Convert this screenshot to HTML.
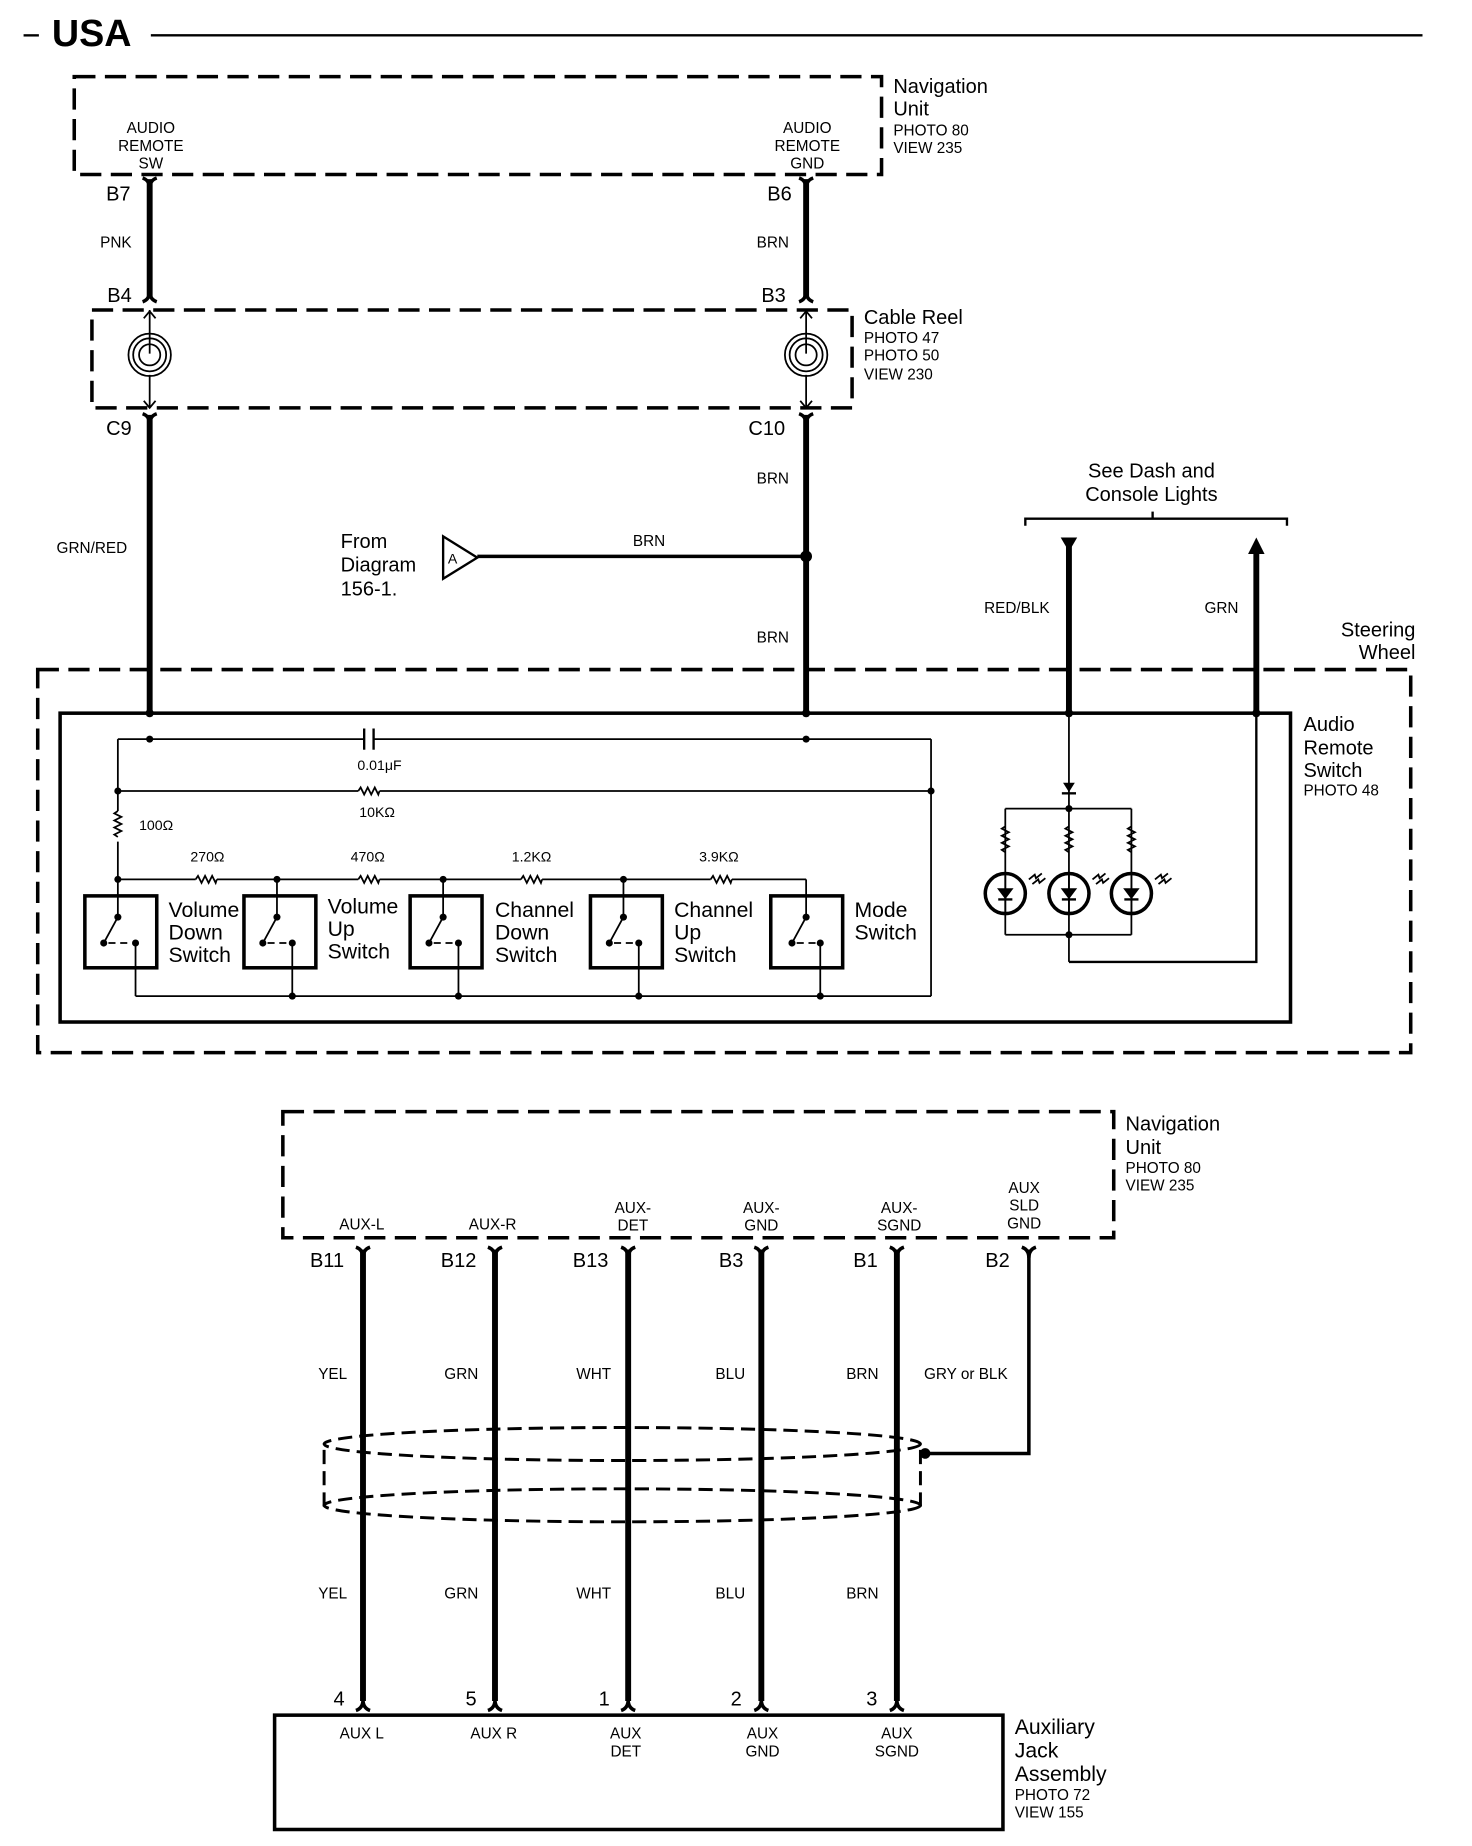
<!DOCTYPE html>
<html><head><meta charset="utf-8"><style>
html,body{margin:0;padding:0;background:#fff;}
svg{display:block;}
text{font-family:"Liberation Sans",Arial,sans-serif;fill:#000;}
.s{font-size:13px}.m{font-size:17px}.l{font-size:18px}
</style></head><body>
<svg width="1472" height="1846" viewBox="0 0 1249 1566" preserveAspectRatio="none" xmlns="http://www.w3.org/2000/svg">
<defs>
<g id="top"><path d="M-6,-4 Q0,-2 0,5 Q0,-2 6,-4" fill="none" stroke="#000" stroke-width="3"/></g>
<g id="bot"><path d="M-6,4 Q0,2 0,-5 Q0,2 6,4" fill="none" stroke="#000" stroke-width="3"/></g>
<g id="res"><path d="M-9,0 l2,-3 l3,6 l3,-6 l3,6 l3,-6 l3,6 l1,-3" fill="none" stroke="#000" stroke-width="1.5"/></g>
<g id="vres"><path d="M0,-13 l-3,2 l6,3 l-6,3 l6,3 l-6,3 l6,3 l-6,3 l3,2" fill="none" stroke="#000" stroke-width="1.5"/></g>
<g id="led"><circle r="17" fill="none" stroke="#000" stroke-width="3"/><path d="M-6,-4 L6,-4 L0,4 Z" fill="#000"/><line x1="-6" y1="5" x2="6" y2="5" stroke="#000" stroke-width="2"/><line x1="0" y1="-17" x2="0" y2="17" stroke="#000" stroke-width="1.5"/><path d="M20,-12 l5,-4 l1,3 l5,-4 M23,-8 l5,-4 l1,3 l5,-4" fill="none" stroke="#000" stroke-width="1.5"/></g>
</defs>
<g stroke="#000" fill="none">
<line x1="20" y1="30" x2="33" y2="30" stroke-width="2"/>
<line x1="128" y1="30" x2="1207" y2="30" stroke-width="2"/>
<rect x="63" y="65" width="685" height="83" stroke-width="3" stroke-dasharray="18,8"/>
<rect x="78" y="263" width="645" height="83" stroke-width="3" stroke-dasharray="18,8"/>
<line x1="127" y1="152" x2="127" y2="253" stroke-width="5"/>
<line x1="684" y1="152" x2="684" y2="253" stroke-width="5"/>
<line x1="127" y1="352" x2="127" y2="605" stroke-width="5"/>
<line x1="684" y1="352" x2="684" y2="605" stroke-width="5"/>
<line x1="405" y1="472" x2="684" y2="472" stroke-width="3"/>
<polygon points="376,455 376,491 405,473" stroke-width="2"/>
<g stroke-width="1.5">
<line x1="127" y1="263" x2="127" y2="300"/><path d="M122,270 L127,264 L132,270"/>
<circle cx="127" cy="301" r="18"/><circle cx="127" cy="301" r="14"/><circle cx="127" cy="301" r="9"/>
<line x1="127" y1="318" x2="127" y2="346"/><path d="M122,340 L127,346 L132,340"/>
<line x1="684" y1="263" x2="684" y2="300"/><path d="M679,270 L684,264 L689,270"/>
<circle cx="684" cy="301" r="18"/><circle cx="684" cy="301" r="14"/><circle cx="684" cy="301" r="9"/>
<line x1="684" y1="318" x2="684" y2="346"/><path d="M679,340 L684,346 L689,340"/>
</g>
<path d="M870,446 L870,440 L1092,440 L1092,446" stroke-width="2"/>
<line x1="978" y1="440" x2="978" y2="434" stroke-width="2"/>
<line x1="907" y1="462" x2="907" y2="605" stroke-width="5"/>
<line x1="1066" y1="468" x2="1066" y2="605" stroke-width="5"/>
<rect x="32" y="568" width="1165" height="325" stroke-width="3" stroke-dasharray="18,8"/>
<rect x="51" y="605" width="1044" height="262" stroke-width="3"/>
<g stroke-width="1.5">
<line x1="100" y1="627" x2="309" y2="627"/><line x1="317" y1="627" x2="790" y2="627"/>
<line x1="309" y1="618" x2="309" y2="636" stroke-width="2"/><line x1="317" y1="618" x2="317" y2="636" stroke-width="2"/>
<line x1="790" y1="627" x2="790" y2="845"/>
<line x1="100" y1="671" x2="304" y2="671"/><line x1="322" y1="671" x2="790" y2="671"/>
<line x1="100" y1="627" x2="100" y2="688"/><line x1="100" y1="714" x2="100" y2="778"/>
<line x1="100" y1="746" x2="166" y2="746"/><line x1="184" y1="746" x2="304" y2="746"/>
<line x1="322" y1="746" x2="442" y2="746"/><line x1="460" y1="746" x2="603" y2="746"/>
<line x1="621" y1="746" x2="684" y2="746"/>
<line x1="235" y1="746" x2="235" y2="778"/><line x1="376" y1="746" x2="376" y2="778"/>
<line x1="529" y1="746" x2="529" y2="778"/><line x1="684" y1="746" x2="684" y2="778"/>
<line x1="115" y1="845" x2="790" y2="845"/>
<line x1="115" y1="800" x2="115" y2="845"/><line x1="248" y1="800" x2="248" y2="845"/>
<line x1="389" y1="800" x2="389" y2="845"/><line x1="542" y1="800" x2="542" y2="845"/>
<line x1="696" y1="800" x2="696" y2="845"/>
</g>
<use href="#res" x="313" y="671"/><use href="#vres" x="100" y="701"/>
<use href="#res" x="175" y="746"/><use href="#res" x="313" y="746"/><use href="#res" x="451" y="746"/><use href="#res" x="612" y="746"/>
<g stroke-width="3">
<rect x="72" y="760" width="61" height="61"/><rect x="207" y="760" width="61" height="61"/>
<rect x="348" y="760" width="61" height="61"/><rect x="501" y="760" width="61" height="61"/>
<rect x="654" y="760" width="61" height="61"/>
</g>
<g stroke-width="1.5">
<path d="M100,778 L88,800 M92,800 h6 M102,800 h6"/>
<path d="M235,778 L223,800 M227,800 h6 M237,800 h6"/>
<path d="M376,778 L364,800 M368,800 h6 M378,800 h6"/>
<path d="M529,778 L517,800 M521,800 h6 M531,800 h6"/>
<path d="M684,778 L672,800 M676,800 h6 M686,800 h6"/>
</g>
<g stroke-width="1.5">
<line x1="907" y1="605" x2="907" y2="816"/>
<line x1="853" y1="686" x2="960" y2="686"/>
<line x1="853" y1="686" x2="853" y2="793"/><line x1="960" y1="686" x2="960" y2="793"/>
<line x1="853" y1="793" x2="960" y2="793"/>
<polyline points="907,816 1066,816 1066,605" stroke-width="2"/>
</g>
<use href="#vres" x="853" y="714"/><use href="#vres" x="907" y="714"/><use href="#vres" x="960" y="714"/>
<use href="#led" x="853" y="758"/><use href="#led" x="907" y="758"/><use href="#led" x="960" y="758"/>
<rect x="240" y="943" width="705" height="107" stroke-width="3" stroke-dasharray="18,8"/>
<g stroke-width="5">
<line x1="308" y1="1060" x2="308" y2="1443"/><line x1="420" y1="1060" x2="420" y2="1443"/>
<line x1="533" y1="1060" x2="533" y2="1443"/><line x1="646" y1="1060" x2="646" y2="1443"/>
<line x1="761" y1="1060" x2="761" y2="1443"/>
</g>
<polyline points="873,1060 873,1233 787,1233" stroke-width="3"/>
<g stroke-width="2.5" stroke-dasharray="12,6">
<ellipse cx="528" cy="1225" rx="253" ry="14"/>
<ellipse cx="528" cy="1277" rx="253" ry="14"/>
<line x1="275" y1="1230" x2="275" y2="1282"/><line x1="781" y1="1230" x2="781" y2="1282"/>
</g>
<rect x="233" y="1455" width="618" height="97" stroke-width="3"/>
</g>
<g>
<use href="#top" x="127" y="155"/><use href="#top" x="684" y="155"/>
<use href="#bot" x="127" y="252"/><use href="#bot" x="684" y="252"/>
<use href="#top" x="127" y="355"/><use href="#top" x="684" y="355"/>
<use href="#top" x="308" y="1062"/><use href="#top" x="420" y="1062"/><use href="#top" x="533" y="1062"/>
<use href="#top" x="646" y="1062"/><use href="#top" x="761" y="1062"/><use href="#top" x="873" y="1062"/>
<use href="#bot" x="308" y="1447"/><use href="#bot" x="420" y="1447"/><use href="#bot" x="533" y="1447"/>
<use href="#bot" x="646" y="1447"/><use href="#bot" x="761" y="1447"/>
<polygon points="900,456 914,456 907,468"/>
<polygon points="1059,470 1073,470 1066,456"/>
<polygon points="902,664 912,664 907,672"/><line x1="901" y1="673" x2="913" y2="673" stroke="#000" stroke-width="2"/>
<circle cx="684" cy="472" r="5"/>
<circle cx="127" cy="605" r="3.5"/><circle cx="684" cy="605" r="3.5"/>
<circle cx="907" cy="605" r="3.5"/><circle cx="1066" cy="605" r="3.5"/>
<circle cx="127" cy="627" r="3"/><circle cx="684" cy="627" r="3"/>
<circle cx="100" cy="671" r="3"/><circle cx="790" cy="671" r="3"/>
<circle cx="100" cy="746" r="3"/><circle cx="235" cy="746" r="3"/><circle cx="376" cy="746" r="3"/><circle cx="529" cy="746" r="3"/>
<circle cx="248" cy="845" r="3"/><circle cx="389" cy="845" r="3"/><circle cx="542" cy="845" r="3"/><circle cx="696" cy="845" r="3"/>
<circle cx="907" cy="686" r="3"/><circle cx="907" cy="793" r="3"/>
<circle cx="100" cy="778" r="3"/><circle cx="88" cy="800" r="3"/><circle cx="115" cy="800" r="3"/>
<circle cx="235" cy="778" r="3"/><circle cx="223" cy="800" r="3"/><circle cx="248" cy="800" r="3"/>
<circle cx="376" cy="778" r="3"/><circle cx="364" cy="800" r="3"/><circle cx="389" cy="800" r="3"/>
<circle cx="529" cy="778" r="3"/><circle cx="517" cy="800" r="3"/><circle cx="542" cy="800" r="3"/>
<circle cx="684" cy="778" r="3"/><circle cx="672" cy="800" r="3"/><circle cx="696" cy="800" r="3"/>
<circle cx="785" cy="1233" r="4.5"/>
</g>
<text x="44" y="39" style="font-size:32px;font-weight:bold">USA</text>
<text x="758" y="79" class="m">Navigation</text><text x="758" y="98" class="m">Unit</text>
<text x="758" y="115" class="s">PHOTO 80</text><text x="758" y="130" class="s">VIEW 235</text>
<g class="s" text-anchor="middle">
<text x="128" y="113">AUDIO</text><text x="128" y="128">REMOTE</text><text x="128" y="143">SW</text>
<text x="685" y="113">AUDIO</text><text x="685" y="128">REMOTE</text><text x="685" y="143">GND</text>
</g>
<g class="m">
<text x="90" y="170">B7</text><text x="651" y="170">B6</text>
<text x="91" y="256">B4</text><text x="646" y="256">B3</text>
<text x="90" y="369">C9</text><text x="635" y="369">C10</text>
</g>
<g class="s">
<text x="85" y="210">PNK</text><text x="642" y="210">BRN</text>
<text x="48" y="469">GRN/RED</text><text x="642" y="410">BRN</text><text x="642" y="545">BRN</text>
<text x="537" y="463">BRN</text>
<text x="835" y="520">RED/BLK</text><text x="1022" y="520">GRN</text>
</g>
<text x="733" y="275" class="m">Cable Reel</text>
<text x="733" y="291" class="s">PHOTO 47</text><text x="733" y="306" class="s">PHOTO 50</text><text x="733" y="322" class="s">VIEW 230</text>
<text x="380" y="478" style="font-size:12px">A</text>
<text x="289" y="465" class="m">From</text><text x="289" y="485" class="m">Diagram</text><text x="289" y="505" class="m">156-1.</text>
<text x="977" y="405" class="m" text-anchor="middle">See Dash and</text><text x="977" y="425" class="m" text-anchor="middle">Console Lights</text>
<text x="1201" y="540" class="m" text-anchor="end">Steering</text><text x="1201" y="559" class="m" text-anchor="end">Wheel</text>
<text x="1106" y="620" class="m">Audio</text><text x="1106" y="640" class="m">Remote</text><text x="1106" y="659" class="m">Switch</text>
<text x="1106" y="675" class="s">PHOTO 48</text>
<g style="font-size:12px" text-anchor="middle">
<text x="322" y="653">0.01μF</text><text x="320" y="693">10KΩ</text>
<text x="176" y="731">270Ω</text><text x="312" y="731">470Ω</text><text x="451" y="731">1.2KΩ</text><text x="610" y="731">3.9KΩ</text>
</g>
<text x="118" y="704" style="font-size:12px">100Ω</text>
<g class="l">
<text x="143" y="778">Volume</text><text x="143" y="797">Down</text><text x="143" y="816">Switch</text>
<text x="278" y="775">Volume</text><text x="278" y="794">Up</text><text x="278" y="813">Switch</text>
<text x="420" y="778">Channel</text><text x="420" y="797">Down</text><text x="420" y="816">Switch</text>
<text x="572" y="778">Channel</text><text x="572" y="797">Up</text><text x="572" y="816">Switch</text>
<text x="725" y="778">Mode</text><text x="725" y="797">Switch</text>
</g>
<text x="955" y="959" class="m">Navigation</text><text x="955" y="979" class="m">Unit</text>
<text x="955" y="995" class="s">PHOTO 80</text><text x="955" y="1010" class="s">VIEW 235</text>
<g class="s" text-anchor="middle">
<text x="307" y="1043">AUX-L</text><text x="418" y="1043">AUX-R</text>
<text x="537" y="1029">AUX-</text><text x="537" y="1044">DET</text>
<text x="646" y="1029">AUX-</text><text x="646" y="1044">GND</text>
<text x="763" y="1029">AUX-</text><text x="763" y="1044">SGND</text>
<text x="869" y="1012">AUX</text><text x="869" y="1027">SLD</text><text x="869" y="1042">GND</text>
</g>
<g class="m">
<text x="263" y="1075">B11</text><text x="374" y="1075">B12</text><text x="486" y="1075">B13</text>
<text x="610" y="1075">B3</text><text x="724" y="1075">B1</text><text x="836" y="1075">B2</text>
<text x="283" y="1447">4</text><text x="395" y="1447">5</text><text x="508" y="1447">1</text>
<text x="620" y="1447">2</text><text x="735" y="1447">3</text>
</g>
<g class="s">
<text x="270" y="1170">YEL</text><text x="377" y="1170">GRN</text><text x="489" y="1170">WHT</text>
<text x="607" y="1170">BLU</text><text x="718" y="1170">BRN</text><text x="784" y="1170">GRY or BLK</text>
<text x="270" y="1356">YEL</text><text x="377" y="1356">GRN</text><text x="489" y="1356">WHT</text>
<text x="607" y="1356">BLU</text><text x="718" y="1356">BRN</text>
</g>
<g class="s" text-anchor="middle">
<text x="307" y="1475">AUX L</text><text x="419" y="1475">AUX R</text>
<text x="531" y="1475">AUX</text><text x="531" y="1490">DET</text>
<text x="647" y="1475">AUX</text><text x="647" y="1490">GND</text>
<text x="761" y="1475">AUX</text><text x="761" y="1490">SGND</text>
</g>
<text x="861" y="1471" class="l">Auxiliary</text><text x="861" y="1491" class="l">Jack</text><text x="861" y="1511" class="l">Assembly</text>
<text x="861" y="1527" class="s">PHOTO 72</text><text x="861" y="1542" class="s">VIEW 155</text>
</svg>
</body></html>
